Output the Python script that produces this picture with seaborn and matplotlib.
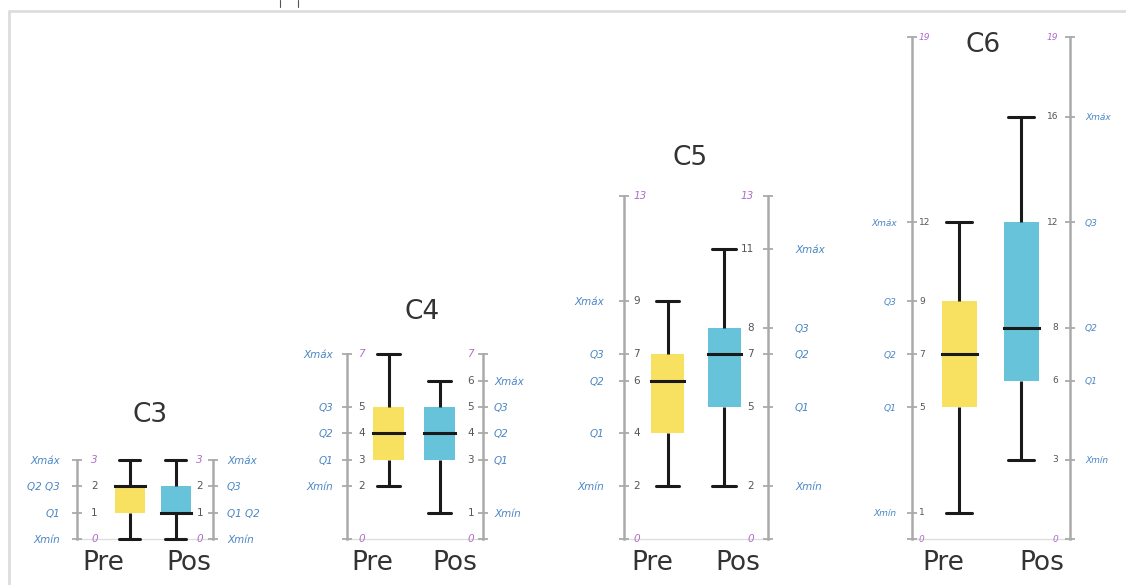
import numpy as np
import pandas as pd
import matplotlib
matplotlib.use('Agg')
import matplotlib.pyplot as plt
from matplotlib.lines import Line2D
import seaborn as sns

# ============================================================
# dados: resumo de cinco números por categoria (Pre / Pos)
# ============================================================
paineis = ['C3', 'C4', 'C5', 'C6']
momentos = ['Pre', 'Pos']

pre_min = [0, 2, 2, 1]
pre_q1  = [1, 3, 4, 5]
pre_q2  = [2, 4, 6, 7]
pre_q3  = [2, 5, 7, 9]
pre_max = [3, 7, 9, 12]

pos_min = [0, 1, 2, 3]
pos_q1  = [1, 3, 5, 6]
pos_q2  = [1, 4, 7, 8]
pos_q3  = [2, 5, 8, 12]
pos_max = [3, 6, 11, 16]

escala_max = [3, 7, 13, 19]
nomes = ['Xmín', 'Q1', 'Q2', 'Q3', 'Xmáx']

# ============================================================
# layout (em pixels da imagem 1126x585)
# ============================================================
W, H = 1126, 585
base_px, px_unid = 539, 26.4
barra_esq = [77, 347, 624, 912]
barra_dir = [213, 483, 768, 1070]
centro_pre = [129.5, 388.5, 667.5, 959]
centro_pos = [175.5, 439.5, 724, 1021]
caixa_px = [30, 31, 33, 35]
pad_esq = [17, 14, 20, 15]
pad_dir = [14, 11, 27, 15]
num_esq = [14, 11, 9, 7]
num_dir = [10, 9, 14, 12]
tam_txt = [7.5, 7.5, 7.5, 6.5]
titulo_xy = [(150, 415), (422, 312), (690, 158), (983, 45)]
rot_pre_x = [103, 372, 652, 943]
rot_pos_x = [189, 455, 738, 1042]
rot_y = 563

cores = {'Pre': '#F8E160', 'Pos': '#66C3DA'}
cinza_barra = '#AAAAAA'
azul = '#4A86C4'
roxo = '#B26CC8'
cinza_num = '#555555'

sns.set_style('white')
plt.rcParams['font.family'] = ['DejaVu Sans']

ylim = ((base_px - H) / px_unid, base_px / px_unid)


def marcas(stats, topo):
    vals = sorted(set([0, topo] + stats))
    labels = [' '.join(n for n, s in zip(nomes, stats) if s == v) for v in vals]
    return vals, labels


fig = plt.figure(figsize=(W / 100, H / 100), dpi=100)

for i, nome in enumerate(paineis):
    x0, x1 = barra_esq[i], barra_dir[i]
    ax = fig.add_axes([x0 / W, 0, (x1 - x0) / W, 1])
    ax.patch.set_alpha(0)

    st_pre = [pre_min[i], pre_q1[i], pre_q2[i], pre_q3[i], pre_max[i]]
    st_pos = [pos_min[i], pos_q1[i], pos_q2[i], pos_q3[i], pos_max[i]]
    df = pd.DataFrame({'momento': ['Pre'] * 5 + ['Pos'] * 5,
                       'valor': st_pre + st_pos})

    esp = centro_pos[i] - centro_pre[i]
    larg = caixa_px[i] / esp
    sns.boxplot(data=df, x='momento', y='valor', hue='momento',
                order=momentos, hue_order=momentos, palette=cores, saturation=1,
                width=larg, whis=(0, 100), linecolor='#1a1a1a', linewidth=2.2,
                capwidths=0.72 * larg, boxprops={'linewidth': 0},
                medianprops={'solid_capstyle': 'projecting'},
                legend=False, ax=ax)

    ax.set_xlim(-(centro_pre[i] - x0) / esp, 1 + (x1 - centro_pos[i]) / esp)
    ax.set_ylim(ylim)
    ax.set_xticks([])
    ax.set_xlabel('')
    ax.set_ylabel('')
    topo = escala_max[i]

    for s in ['top', 'right']:
        ax.spines[s].set_visible(False)
    ax.spines['left'].set_bounds(0, topo)
    ax.spines['left'].set_color(cinza_barra)
    ax.spines['left'].set_linewidth(1.8)
    ax.spines['bottom'].set_position(('data', 0))
    ax.spines['bottom'].set_color('#DDDDDD')
    ax.spines['bottom'].set_linewidth(0.9)
    ax.spines['bottom'].set_zorder(0)

    ax2 = ax.twinx()
    ax2.set_ylim(ylim)
    for s in ['top', 'left', 'bottom']:
        ax2.spines[s].set_visible(False)
    ax2.spines['right'].set_bounds(0, topo)
    ax2.spines['right'].set_color(cinza_barra)
    ax2.spines['right'].set_linewidth(1.8)

    # escalas dos dois lados
    for eixo, stats, pad, lado in [(ax, st_pre, pad_esq[i], 0), (ax2, st_pos, pad_dir[i], 1)]:
        vals, labels = marcas(stats, topo)
        eixo.set_yticks(vals, labels)
        eixo.tick_params(axis='y', direction='inout', length=7, width=1.3,
                         color=cinza_barra, labelcolor=azul, labelsize=tam_txt[i],
                         pad=pad * 0.72 - 3.5)
        for t in eixo.get_yticklabels():
            t.set_fontstyle('italic')
        off = num_esq[i] if lado == 0 else -num_dir[i]
        for v in vals:
            extremo = v in (0, topo)
            ax.annotate(str(v), xy=(lado, v), xycoords=('axes fraction', 'data'),
                        xytext=(off * 0.72, 0), textcoords='offset points',
                        ha='left' if lado == 0 else 'right', va='center',
                        fontsize=tam_txt[i],
                        color=roxo if extremo else cinza_num,
                        fontstyle='italic' if extremo else 'normal')

    tx, ty = titulo_xy[i]
    fig.text(tx / W, 1 - ty / H, nome, ha='center', va='center',
             fontsize=19, color='#333333')
    fig.text(rot_pre_x[i] / W, 1 - rot_y / H, 'Pre', ha='center', va='center',
             fontsize=19, color='#333333')
    fig.text(rot_pos_x[i] / W, 1 - rot_y / H, 'Pos', ha='center', va='center',
             fontsize=19, color='#333333')

# moldura
fig.add_artist(Line2D([9 / W, 9 / W], [0, 1 - 11 / H], color='#DDDDDD', lw=2,
                      transform=fig.transFigure))
fig.add_artist(Line2D([9 / W, 1], [1 - 11 / H, 1 - 11 / H], color='#DDDDDD', lw=2,
                      transform=fig.transFigure))
for mx in [280, 298]:
    fig.add_artist(Line2D([mx / W, mx / W], [1, 1 - 7 / H], color='#555555', lw=0.8,
                          transform=fig.transFigure))

fig.savefig('out.png', dpi=100)
